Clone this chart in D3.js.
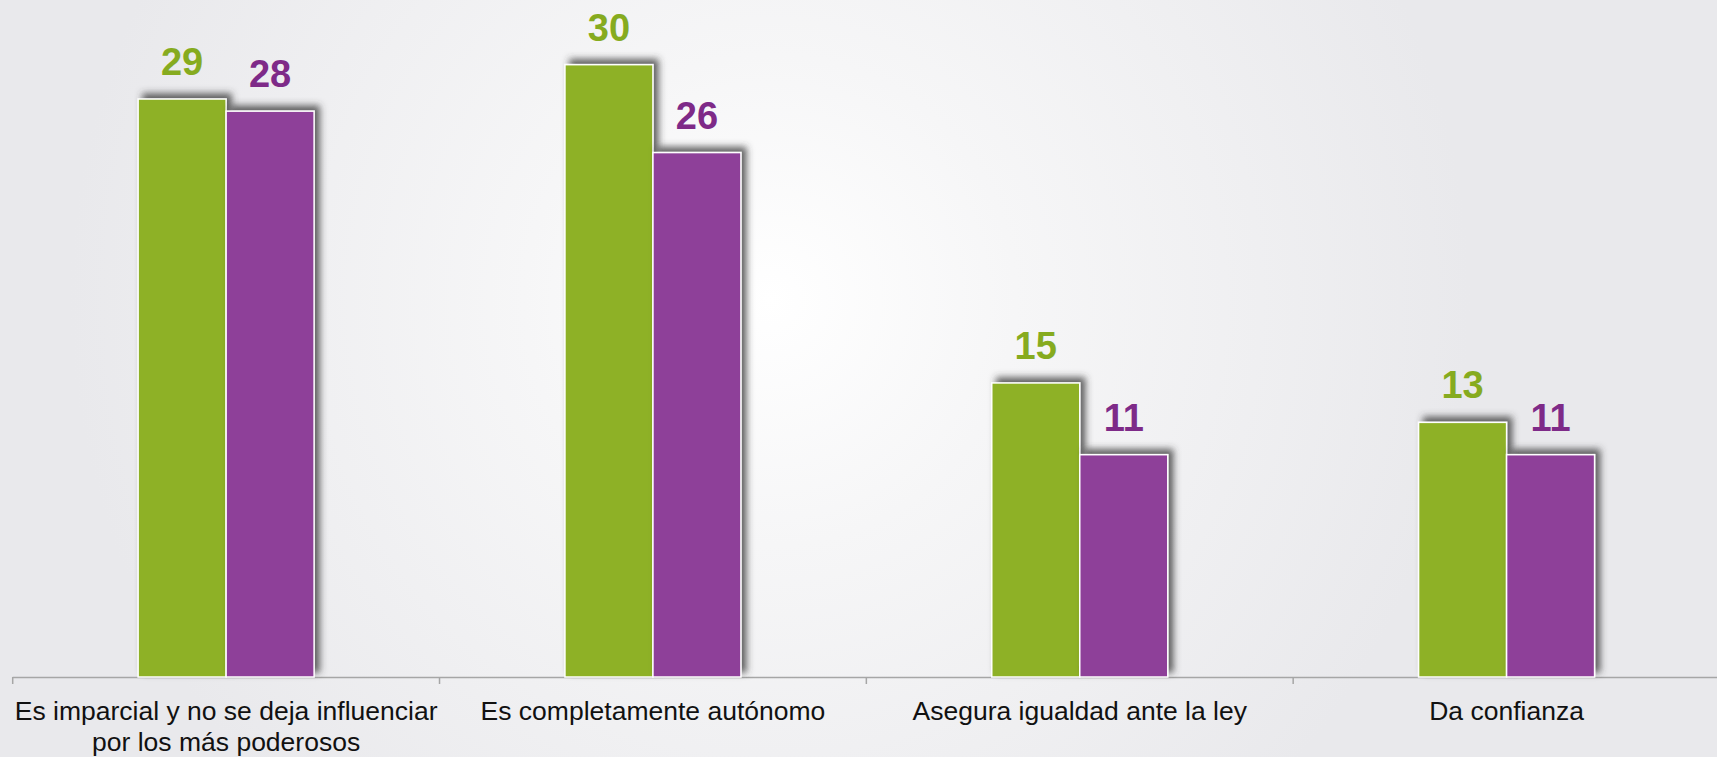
<!DOCTYPE html>
<html>
<head>
<meta charset="utf-8">
<script src="https://cdn.jsdelivr.net/npm/d3@7"></script>
<style>
  html, body { margin: 0; padding: 0; background: #ebebed; }
  svg { display: block; }
</style>
</head>
<body>
<div id="chart"></div>
<script>
// chart data
var categories = [
  ["Es imparcial y no se deja influenciar", "por los más poderosos"],
  ["Es completamente autónomo"],
  ["Asegura igualdad ante la ley"],
  ["Da confianza"]
];
var seriesNames = ["verde", "morado"];
var greenValues = [28.6, 30.3, 14.55, 12.6];
var purpleValues = [28.0, 25.95, 11.0, 11.0];

var svgWidth = 1717;
var svgHeight = 757;

var margin = { top: 0, left: 12.7, right: -3, bottom: 80 };
var axisY = 677;

var svg = d3.select("#chart")
  .append("svg")
  .attr("width", svgWidth)
  .attr("height", svgHeight);

// background with a soft light glow
var defs = svg.append("defs");
var glow = defs.append("radialGradient")
  .attr("id", "glow")
  .attr("cx", 770).attr("cy", 300).attr("r", 700)
  .attr("gradientUnits", "userSpaceOnUse");
glow.append("stop").attr("offset", "0").attr("stop-color", "#ffffff");
glow.append("stop").attr("offset", "0.35").attr("stop-color", "#f6f6f7");
glow.append("stop").attr("offset", "1").attr("stop-color", "#e9e9ec");

var shadow = defs.append("filter")
  .attr("id", "shadow")
  .attr("x", "-20%").attr("y", "-20%")
  .attr("width", "140%").attr("height", "140%");
shadow.append("feDropShadow")
  .attr("dx", 5).attr("dy", -5)
  .attr("stdDeviation", 3.5)
  .attr("flood-color", "#3a3a3a")
  .attr("flood-opacity", 0.8);

svg.append("rect")
  .attr("width", svgWidth)
  .attr("height", svgHeight)
  .attr("fill", "url(#glow)");

var data = categories.map(function(c, i) {
  return { cat: i, values: [greenValues[i], purpleValues[i]] };
});

// scales
var x0 = d3.scaleBand()
  .domain(d3.range(categories.length))
  .range([margin.left, svgWidth - margin.right])
  .padding(0);

var groupWidth = 176;
var x1 = d3.scaleBand()
  .domain(seriesNames)
  .range([0, groupWidth])
  .padding(0);

var y = d3.scaleLinear()
  .domain([0, 33.5])
  .range([axisY, 0]);

var barColors = ["#8eb126", "#8e4099"];
var textColors = ["#86ab1f", "#7e2a88"];

// axis line and ticks
svg.append("line")
  .attr("x1", x0.range()[0]).attr("x2", svgWidth)
  .attr("y1", axisY + 0.5).attr("y2", axisY + 0.5)
  .attr("stroke", "#a6a6a6")
  .attr("stroke-width", 1.5);

svg.selectAll(".tick")
  .data(d3.range(categories.length + 1))
  .enter()
  .append("line")
  .attr("x1", d => x0.range()[0] + d * x0.step())
  .attr("x2", d => x0.range()[0] + d * x0.step())
  .attr("y1", axisY)
  .attr("y2", axisY + 7)
  .attr("stroke", "#a6a6a6")
  .attr("stroke-width", 1.5);

// bars
var groups = svg.selectAll(".grp")
  .data(data)
  .enter()
  .append("g")
  .attr("transform", d => `translate(${x0(d.cat) + (x0.bandwidth() - groupWidth) / 2}, 0)`);

groups.selectAll("rect")
  .data(d => d.values.map((v, j) => ({ key: seriesNames[j], j: j, v: v })))
  .enter()
  .append("rect")
  .attr("x", d => x1(d.key))
  .attr("y", d => y(d.v))
  .attr("width", x1.bandwidth())
  .attr("height", d => axisY - y(d.v))
  .attr("fill", d => barColors[d.j])
  .attr("stroke", "#ffffff")
  .attr("stroke-width", 1.5)
  .attr("filter", "url(#shadow)");

// value labels
groups.selectAll("text")
  .data(d => d.values.map((v, j) => ({ key: seriesNames[j], j: j, v: v })))
  .enter()
  .append("text")
  .attr("x", d => x1(d.key) + x1.bandwidth() / 2)
  .attr("y", d => y(d.v) - 24)
  .attr("text-anchor", "middle")
  .attr("font-family", "Liberation Sans, Arial, sans-serif")
  .attr("font-weight", "bold")
  .attr("font-size", 38)
  .attr("fill", d => textColors[d.j])
  .text(d => d3.format(".0f")(d.v));

// category labels
var catLabels = svg.selectAll(".cat")
  .data(categories)
  .enter()
  .append("text")
  .attr("x", (d, i) => x0(i) + x0.bandwidth() / 2)
  .attr("y", 720)
  .attr("text-anchor", "middle")
  .attr("font-family", "Liberation Sans, Arial, sans-serif")
  .attr("font-size", 26.5)
  .attr("fill", "#111111");

catLabels.selectAll("tspan")
  .data(d => d)
  .enter()
  .append("tspan")
  .attr("x", function() { return d3.select(this.parentNode).attr("x"); })
  .attr("dy", (d, i) => i === 0 ? 0 : 31)
  .text(d => d);
</script>
</body>
</html>
